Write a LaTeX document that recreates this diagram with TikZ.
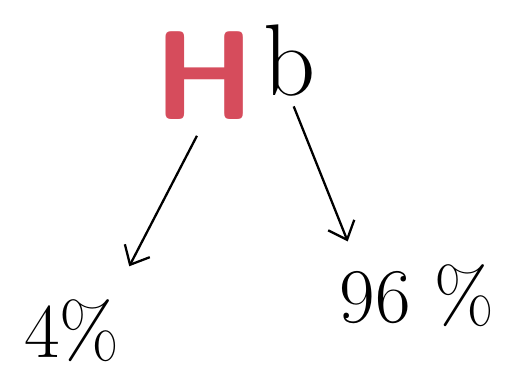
\documentclass[tikz,border=0pt]{standalone}
\usetikzlibrary{arrows.meta, positioning, calc}
\definecolor{merahhb}{RGB}{214,76,92}

\begin{document}
\begin{tikzpicture}[
        letterH/.style={font=\sffamily\bfseries\fontsize{72}{72}\selectfont, text=merahhb, inner sep=0pt},
        letterB/.style={font=\fontsize{58}{58}\selectfont, inner sep=0pt},
        persen/.style={font=\fontsize{44}{44}\selectfont, inner sep=0pt},
        panah/.style={-{Straight Barb[length=9pt, width=16pt]}, line width=1.3pt}
    ]
        \useasboundingbox (0,0) rectangle (10.12,7.52);
        \node[letterH] (H) at (4.1,6.0) {H};
        \node[letterB] (b) at (5.8,6.3) {b};
        \node[persen] (four) at (1.44,0.9) {4\%};
        \node[persen] (ninesix) at (8.34,1.6) {96 \%};
        \draw[panah, shorten <=0.35cm, shorten >=0.75cm] (H.south) -- ([xshift=0.8cm]four.north);
        \draw[panah, shorten <=0.2cm, shorten >=0.5cm] (b.south) -- ([xshift=-1.2cm]ninesix.north);
    \end{tikzpicture}
\end{document}
